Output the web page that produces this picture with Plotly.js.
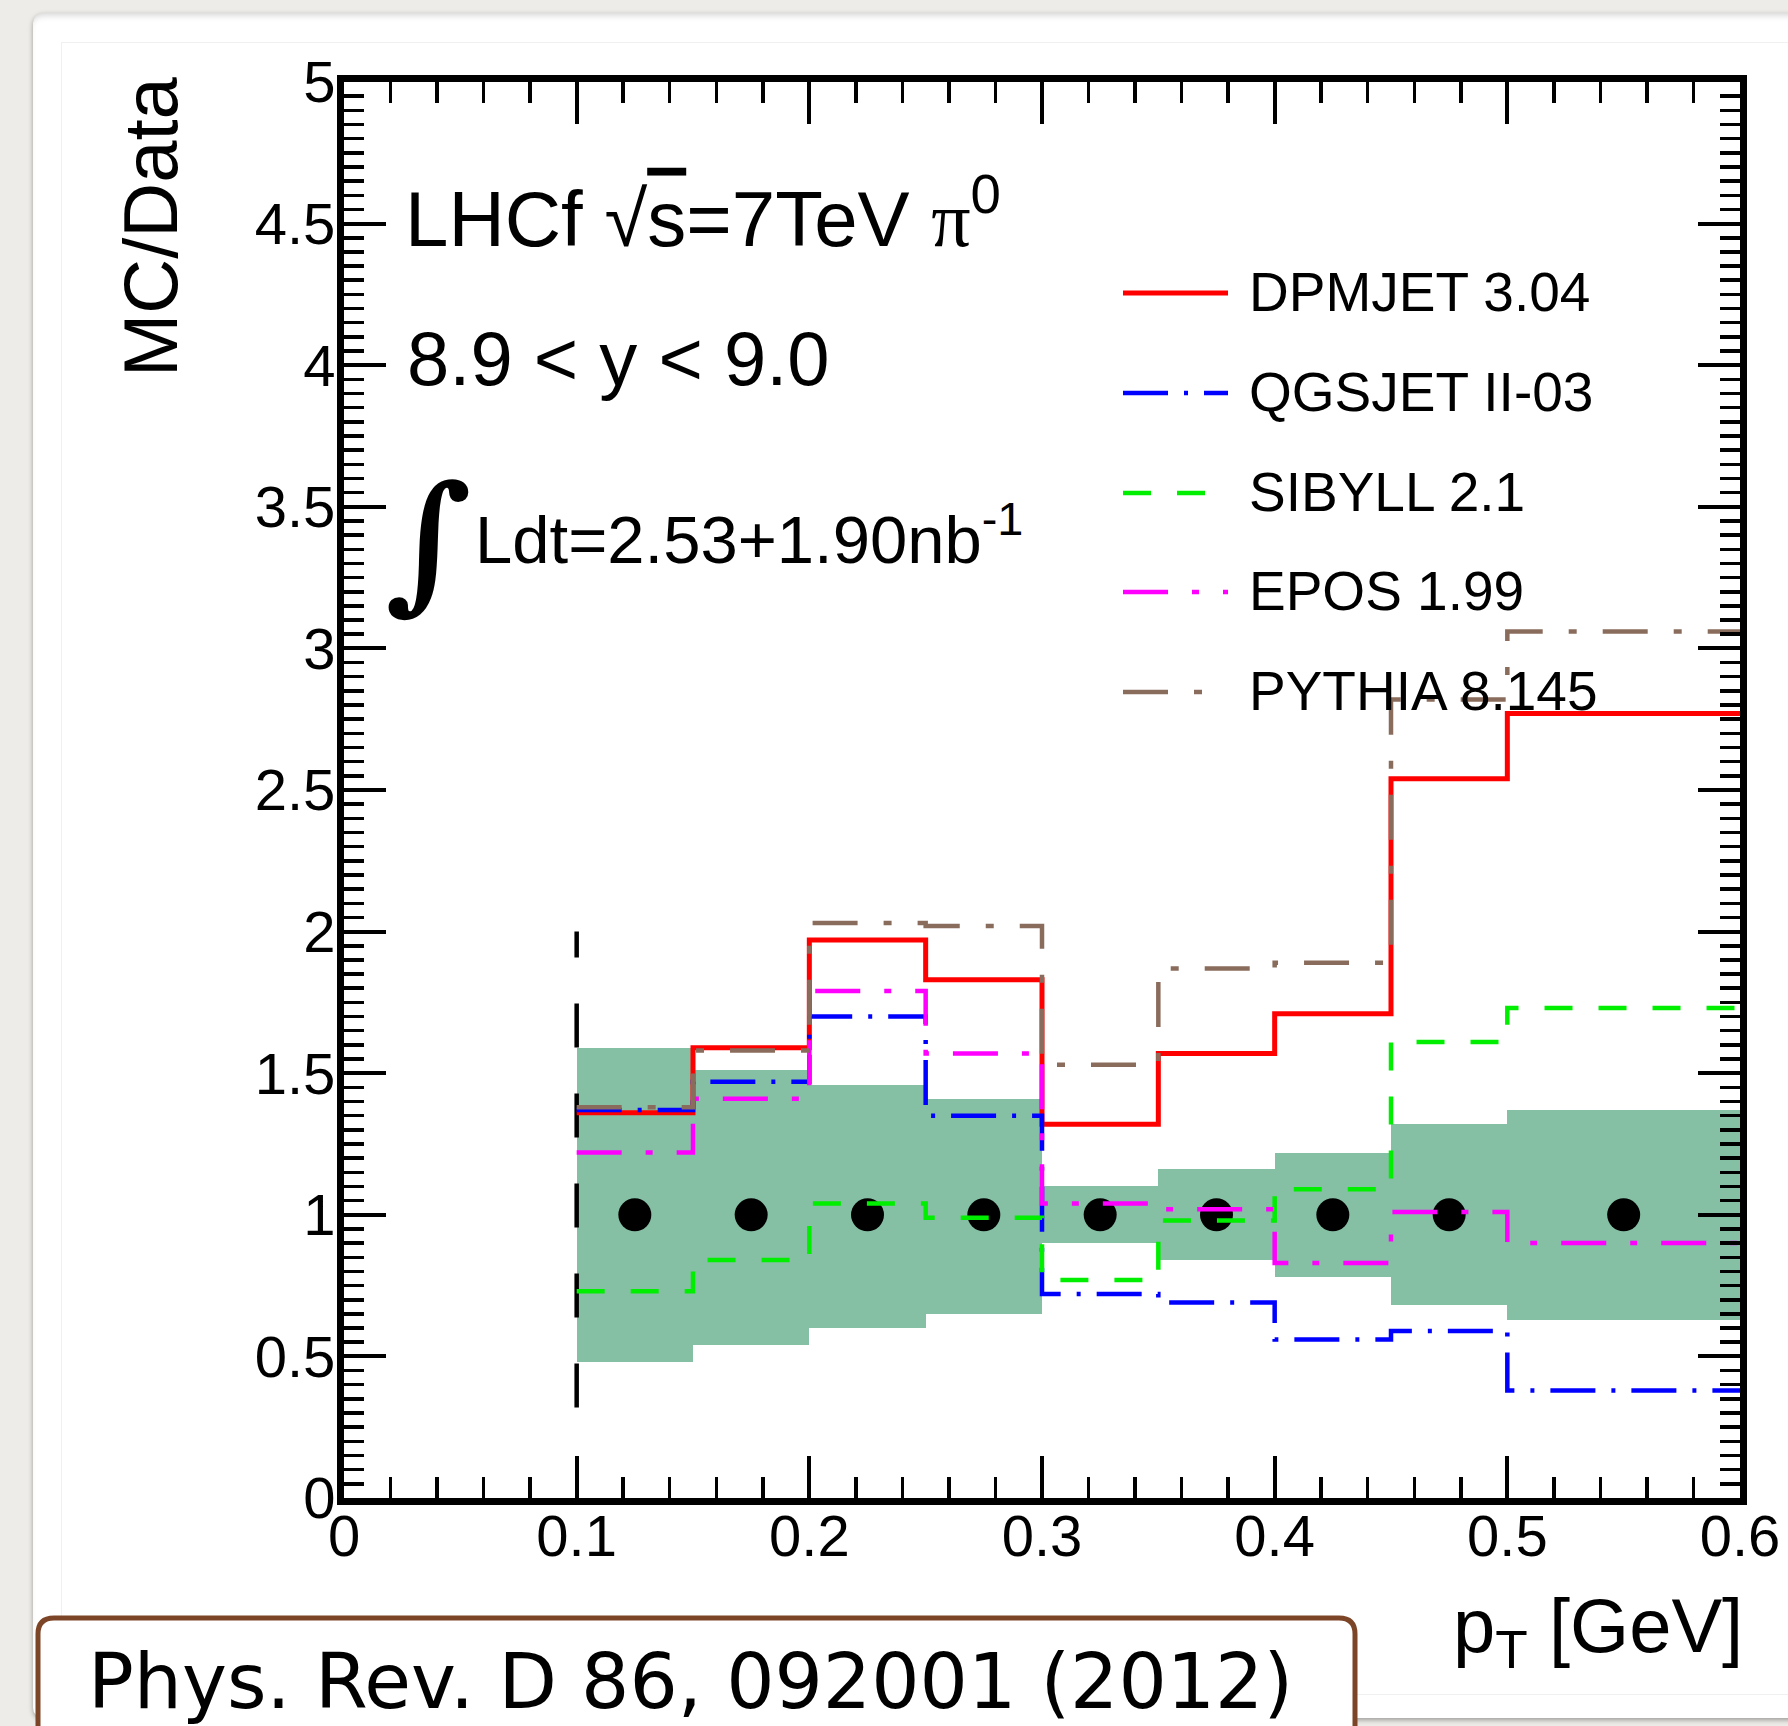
<!DOCTYPE html>
<html>
<head>
<meta charset="utf-8">
<script src="https://cdn.plot.ly/plotly-3.0.1.min.js"></script>
<style>
  html, body { margin: 0; padding: 0; width: 1788px; height: 1726px; overflow: hidden; background: #eeece8; }
  #panel { position: absolute; left: 33px; top: 13px; width: 1800px; height: 1705px; background: #ffffff;
           border-radius: 10px; box-shadow: 0 2px 5px rgba(0,0,0,0.35), inset 0 6px 7px -4px rgba(0,0,0,0.18); }
  #inner { position: absolute; left: 61px; top: 42px; width: 1726px; height: 1651px; border: 1px solid #f0f0f0; background: #ffffff; }
  #chart { position: absolute; left: 0; top: 0; width: 1788px; height: 1726px; }
</style>
</head>
<body>
<div id="panel"></div>
<div id="inner"></div>
<div id="chart"></div>
<script>
// pT bin edges [GeV] and MC/Data ratios per bin
const binEdges = [0.10, 0.15, 0.20, 0.25, 0.30, 0.35, 0.40, 0.45, 0.50, 0.60];
const dataRatio = [1, 1, 1, 1, 1, 1, 1, 1, 1];
const bandLow  = [0.48, 0.54, 0.60, 0.65, 0.90, 0.84, 0.78, 0.68, 0.63];
const bandHigh = [1.59, 1.51, 1.46, 1.41, 1.10, 1.16, 1.22, 1.32, 1.37];

const modelNames = ['DPMJET 3.04', 'QGSJET II-03', 'SIBYLL 2.1', 'EPOS 1.99', 'PYTHIA 8.145'];
const dpmjet = [1.36, 1.59, 1.97, 1.83, 1.32, 1.57, 1.71, 2.54, 2.77];
const qgsjet = [1.37, 1.47, 1.70, 1.35, 0.72, 0.69, 0.56, 0.59, 0.38];
const sibyll = [0.73, 0.84, 1.04, 0.99, 0.77, 0.98, 1.09, 1.61, 1.73];
const epos   = [1.22, 1.41, 1.79, 1.57, 1.04, 1.02, 0.83, 1.01, 0.90];
const pythia = [1.38, 1.58, 2.03, 2.02, 1.53, 1.87, 1.89, 2.82, 3.06];

// lower acceptance edge marker
const edgeX = [0.10, 0.10];
const edgeY = [0.32, 2.00];

const xTicks = [0, 0.1, 0.2, 0.3, 0.4, 0.5, 0.6];
const xTickText = ['0', '0.1', '0.2', '0.3', '0.4', '0.5', '0.6'];
const yTicks = [0, 0.5, 1, 1.5, 2, 2.5, 3, 3.5, 4, 4.5, 5];
const yTickText = ['0', '0.5', '1', '1.5', '2', '2.5', '3', '3.5', '4', '4.5', '5'];

const W = 1788, H = 1726;
const M = { l: 344, r: 48, t: 82, b: 228 };
const PW = W - M.l - M.r, PH = H - M.t - M.b;
const px = p => (p - M.l) / PW;          // page x -> paper x
const py = p => (H - M.b - p) / PH;      // page y -> paper y

const centers = binEdges.slice(0, -1).map((e, i) => (e + binEdges[i + 1]) / 2);
const widths  = binEdges.slice(0, -1).map((e, i) => binEdges[i + 1] - e);

const lineStyles = [
  { color: '#ff0000', dash: 'solid', width: 5 },
  { color: '#0000ff', dash: '45px,16px,4px,16px', width: 4.5 },
  { color: '#00ee00', dash: '28px,26px', width: 4.5 },
  { color: '#ff00ff', dash: '45px,24px,7px,24px', width: 4.5 },
  { color: '#8a6c5c', dash: '45px,26px,8px,26px', width: 4.5 }
];
const models = [dpmjet, qgsjet, sibyll, epos, pythia];

const traces = [];
// uncertainty band
traces.push({
  type: 'bar', x: centers, width: widths, base: bandLow,
  y: bandHigh.map((h, i) => h - bandLow[i]),
  marker: { color: '#85bfa4', line: { width: 0 } },
  hoverinfo: 'skip', showlegend: false
});
// data points (ratio = 1)
traces.push({
  type: 'scatter', mode: 'markers', x: centers, y: dataRatio,
  marker: { color: '#000000', size: 33 }, showlegend: false, name: 'Data'
});
// acceptance edge
traces.push({
  type: 'scatter', mode: 'lines', x: edgeX, y: edgeY,
  line: { color: '#000000', width: 4.5, dash: '44px,46px' }, showlegend: false
});
// model histograms
models.forEach((vals, k) => {
  traces.push({
    type: 'scatter', mode: 'lines', name: modelNames[k],
    x: binEdges, y: vals.concat([vals[vals.length - 1]]),
    line: { shape: 'hv', color: lineStyles[k].color, dash: lineStyles[k].dash, width: lineStyles[k].width },
    showlegend: false
  });
});

const FONT = 'Liberation Sans, Arial, sans-serif';
const shapes = [];
const annotations = [];

// legend
const legendY = [293, 393, 493, 592, 692];
modelNames.forEach((name, k) => {
  shapes.push({
    type: 'line', xref: 'paper', yref: 'paper',
    x0: px(1123), x1: px(1228), y0: py(legendY[k]), y1: py(legendY[k]),
    line: { color: lineStyles[k].color, width: lineStyles[k].width, dash: lineStyles[k].dash }
  });
  annotations.push({
    xref: 'paper', yref: 'paper', x: px(1247), y: py(legendY[k] - 1),
    xanchor: 'left', yanchor: 'middle', showarrow: false, text: name,
    font: { family: FONT, size: 55, color: '#000' }
  });
});

// labels inside the frame
annotations.push({
  xref: 'paper', yref: 'paper', x: px(403), y: py(214), xanchor: 'left', yanchor: 'middle', showarrow: false,
  text: 'LHCf √<span style="text-decoration:overline">s</span>=7TeV <span style="font-family:\'Liberation Serif\'">π</span><sup>0</sup>',
  font: { family: FONT, size: 78, color: '#000' }
});
annotations.push({
  xref: 'paper', yref: 'paper', x: px(405), y: py(358), xanchor: 'left', yanchor: 'middle', showarrow: false,
  text: '8.9 &lt; y &lt; 9.0', font: { family: FONT, size: 76, color: '#000' }
});
annotations.push({
  xref: 'paper', yref: 'paper', x: px(428), y: py(540), xanchor: 'center', yanchor: 'middle', showarrow: false,
  text: '<b>∫</b>', font: { family: 'DejaVu Serif, serif', size: 150, color: '#000' }
});
annotations.push({
  xref: 'paper', yref: 'paper', x: px(473), y: py(535), xanchor: 'left', yanchor: 'middle', showarrow: false,
  text: 'Ldt=2.53+1.90nb<sup>-1</sup>', font: { family: FONT, size: 67, color: '#000' }
});

// axis titles
annotations.push({
  xref: 'paper', yref: 'paper', x: px(151), y: py(227), xanchor: 'center', yanchor: 'middle', showarrow: false,
  textangle: -90, text: 'MC/Data', font: { family: FONT, size: 76, color: '#000' }
});
annotations.push({
  xref: 'paper', yref: 'paper', x: px(1745), y: py(1631), xanchor: 'right', yanchor: 'middle', showarrow: false,
  text: 'p<sub>T</sub> [GeV]', font: { family: FONT, size: 76, color: '#000' }
});

// reference box
shapes.push({
  type: 'path', xref: 'paper', yref: 'paper', layer: 'above',
  path: (function () {
    const x0 = 38, x1 = 1355, y0 = 1618, y1 = 1780, r = 16;
    const P = (x, y) => px(x) + ',' + py(y);
    return 'M' + P(x0, y1) + ' L' + P(x0, y0 + r) + ' Q' + P(x0, y0) + ' ' + P(x0 + r, y0) +
           ' L' + P(x1 - r, y0) + ' Q' + P(x1, y0) + ' ' + P(x1, y0 + r) + ' L' + P(x1, y1) + ' Z';
  })(),
  fillcolor: '#ffffff', line: { color: '#7d4527', width: 5 }
});
annotations.push({
  xref: 'paper', yref: 'paper', x: px(86), y: py(1681), xanchor: 'left', yanchor: 'middle', showarrow: false,
  text: 'Phys. Rev. D 86, 092001 (2012)', font: { family: 'DejaVu Sans, Verdana, sans-serif', size: 76, color: '#000' }
});

const axisCommon = {
  showline: true, linecolor: '#000', linewidth: 7, mirror: 'allticks',
  ticks: 'inside', tickcolor: '#000', tickwidth: 4, ticklen: 42,
  showgrid: false, zeroline: false, automargin: false, fixedrange: true,
  tickfont: { family: FONT, size: 58, color: '#000' }, ticklabeloverflow: 'allow'
};

const layout = {
  width: W, height: H,
  margin: M,
  paper_bgcolor: 'rgba(0,0,0,0)', plot_bgcolor: '#ffffff',
  showlegend: false, bargap: 0,
  xaxis: Object.assign({}, axisCommon, {
    range: [0, 0.6], tickmode: 'array', tickvals: xTicks, ticktext: xTickText, ticklabelstandoff: -19,
    minor: { tickmode: 'linear', tick0: 0, dtick: 0.02, ticks: 'inside', ticklen: 21, tickwidth: 3.5, tickcolor: '#000', showgrid: false }
  }),
  yaxis: Object.assign({}, axisCommon, {
    range: [0, 5], tickmode: 'array', tickvals: yTicks, ticktext: yTickText, ticklabelstandoff: -10,
    minor: { tickmode: 'linear', tick0: 0, dtick: 0.05, ticks: 'inside', ticklen: 20, tickwidth: 3.5, tickcolor: '#000', showgrid: false }
  }),
  shapes: shapes,
  annotations: annotations
};

Plotly.newPlot('chart', traces, layout, { staticPlot: true, displayModeBar: false });
</script>
</body>
</html>
